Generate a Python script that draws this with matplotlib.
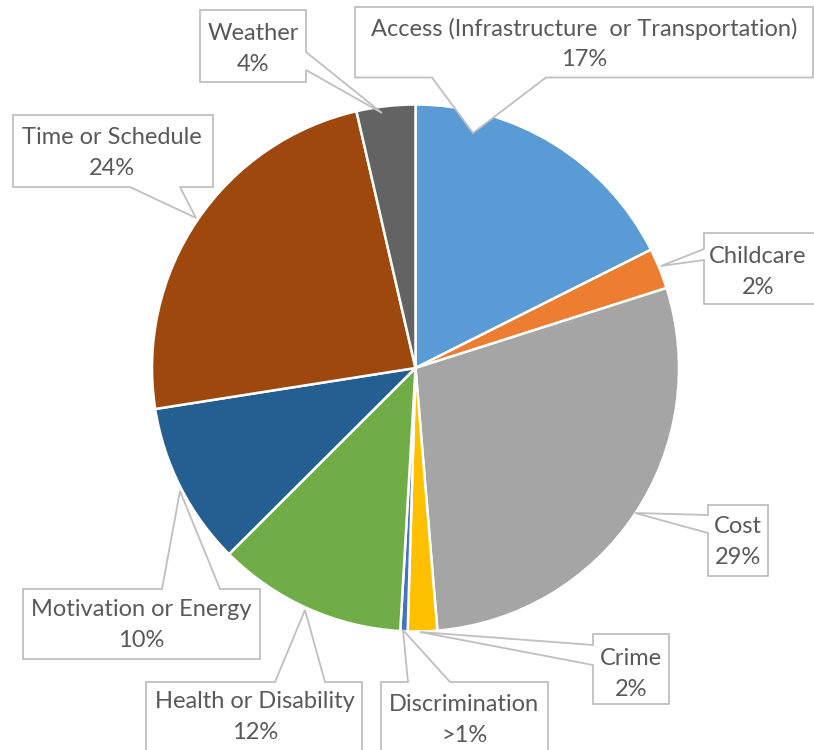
import matplotlib
matplotlib.use("Agg")
import matplotlib.pyplot as plt
from matplotlib.patches import Polygon

# ---- data ----
categories = ["Access (Infrastructure  or Transportation)", "Childcare", "Cost", "Crime",
              "Discrimination", "Health or Disability", "Motivation or Energy",
              "Time or Schedule", "Weather"]
values = [17.6, 2.5, 28.6, 1.8, 0.45, 11.6, 10.0, 23.9, 3.6]
pct_labels = ["17%", "2%", "29%", "2%", ">1%", "12%", "10%", "24%", "4%"]
colors = ["#5B9BD5", "#ED7D31", "#A5A5A5", "#FFC000", "#4472C4",
          "#70AD47", "#255E91", "#9E480E", "#636363"]

W, H = 814, 750
fig = plt.figure(figsize=(W / 100, H / 100), dpi=100)
ax = fig.add_axes([0, 0, 1, 1])

ax.pie(values, colors=colors, startangle=90, counterclock=False,
       center=(415.5, H - 368), radius=263.5,
       wedgeprops=dict(edgecolor="white", linewidth=1.8))
ax.set_xlim(0, W)
ax.set_ylim(0, H)
ax.set_aspect("equal")
ax.axis("off")

# callout layout in pixel coords (y down): box (x0,y0,x1,y1), side, wedge span, tip, text center
callouts = [
    ((355, 7, 813, 77.5), "bottom", (432, 546), (473, 133), (584, 44)),
    ((704, 233, 830, 304), "left", (249, 260), (661, 266), (758, 272)),
    ((708, 505, 768, 576), "left", (515, 533), (635, 513), (738, 542)),
    ((593, 634, 669, 704), "left", (645, 665), (420, 632), (631, 674)),
    ((381, 682, 548, 790), "top", (408, 450), (403, 630), (464, 720)),
    ((146, 682, 362, 790), "top", (275, 325), (305, 610), (255, 717)),
    ((23, 589, 260, 659), "top", (162, 220), (180, 491), (141, 625)),
    ((13, 115, 213, 187), "bottom", (130, 180), (196, 218), (112, 153)),
    ((200, 10, 306, 82), "right", (52, 70), (382, 113), (253, 49)),
]

def flip(pts):
    return [(x, H - y) for x, y in pts]

for (box, side, span, tip, tc), cat, pct in zip(callouts, categories, pct_labels):
    x0, y0, x1, y1 = box
    a, b = span
    if side == "bottom":
        pts = [(x0, y0), (x1, y0), (x1, y1), (b, y1), tip, (a, y1), (x0, y1)]
    elif side == "top":
        pts = [(x0, y0), (a, y0), tip, (b, y0), (x1, y0), (x1, y1), (x0, y1)]
    elif side == "left":
        pts = [(x0, y0), (x1, y0), (x1, y1), (x0, y1), (x0, b), tip, (x0, a)]
    else:
        pts = [(x0, y0), (x1, y0), (x1, a), tip, (x1, b), (x1, y1), (x0, y1)]
    ax.add_patch(Polygon(flip(pts), closed=True, facecolor="white",
                         edgecolor="#BFBFBF", linewidth=1.3, zorder=5))
    ax.text(tc[0], H - tc[1], f"{cat}\n{pct}", ha="center", va="center",
            fontsize=17, color="#595959", family=["Lato", "DejaVu Sans"],
            linespacing=1.55, zorder=6)

fig.savefig("out.png", dpi=100)
